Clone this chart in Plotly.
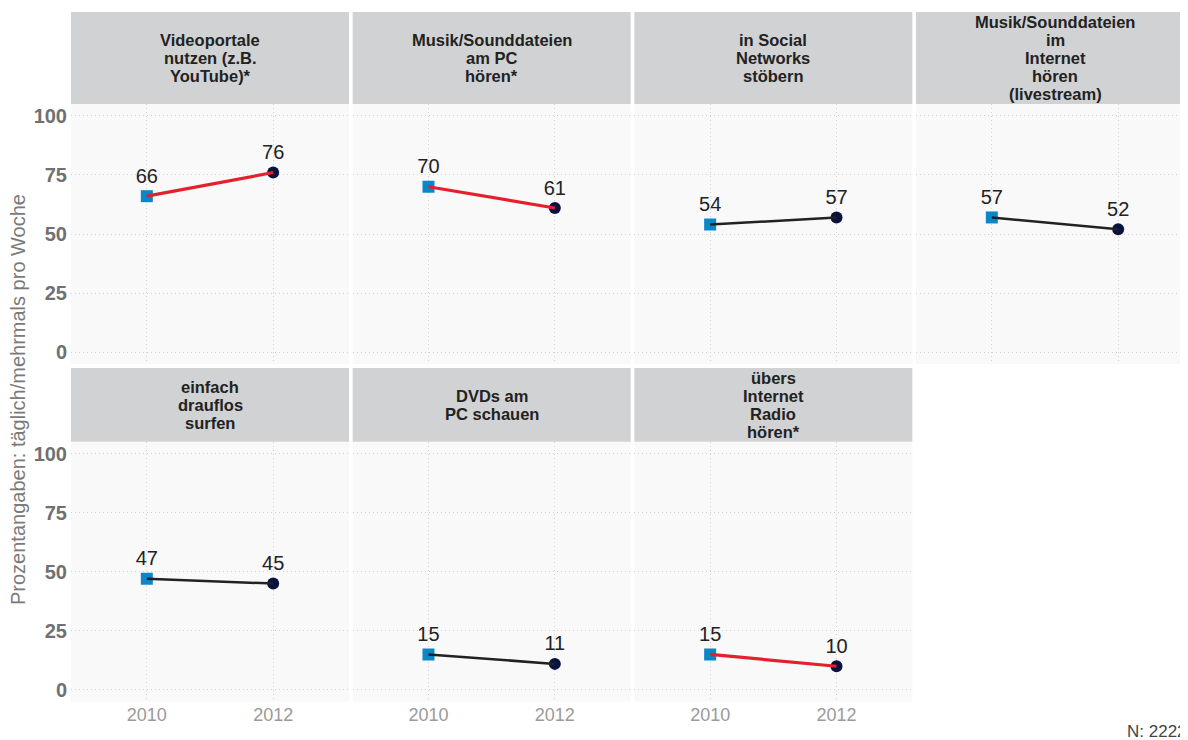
import plotly.graph_objects as go

# Daten
jahre = ["2010", "2012"]
titel = [
    ["Videoportale", "nutzen (z.B.", "YouTube)*"],
    ["Musik/Sounddateien", "am PC", "hören*"],
    ["in Social", "Networks", "stöbern"],
    ["Musik/Sounddateien", "im", "Internet", "hören", "(livestream)"],
    ["einfach", "drauflos", "surfen"],
    ["DVDs am", "PC schauen"],
    ["übers", "Internet", "Radio", "hören*"],
]
werte_2010 = [66, 70, 54, 57, 47, 15, 15]
werte_2012 = [76, 61, 57, 52, 45, 11, 10]
signifikant = [True, True, False, False, False, False, True]
y_ticks = [0, 25, 50, 75, 100]

# page body has an 8px margin, figure is drawn inside it
OFF = 8
W, H = 1188 - OFF, 740 - OFF
col_x0 = [71 - OFF, 352.67 - OFF, 634.33 - OFF, 916 - OFF]
panel_w = 278
# (strip top, strip bottom/panel top, panel bottom) in px
rows = [(12 - OFF, 104 - OFF, 364 - OFF), (368 - OFF, 441.7 - OFF, 701.7 - OFF)]

FONT = "Liberation Sans, Arial"
GRID = dict(showgrid=True, gridcolor="#d2d2d2", griddash="1px,3px", gridwidth=1)

fig = go.Figure()
shapes = []
annotations = []
layout_axes = {}

for i in range(len(titel)):
    r, c = divmod(i, 4)
    n = i + 1
    xa = "x" if n == 1 else "x%d" % n
    ya = "y" if n == 1 else "y%d" % n
    x0 = col_x0[c]
    x1 = min(x0 + panel_w, W)
    s_top, p_top, p_bot = rows[r]

    # range follows the clipped width of the last column
    rng_end = -0.6 + 2.2 * (x1 - x0) / panel_w
    show_x = r == 1
    layout_axes["xaxis" if n == 1 else "xaxis%d" % n] = dict(
        domain=[x0 / W, x1 / W], anchor=ya, type="category",
        range=[-0.6, rng_end], zeroline=False, showline=False,
        showticklabels=show_x, ticks="",
        tickfont=dict(family=FONT, size=18, color="#9a9a9a"),
        fixedrange=True, **GRID,
    )
    show_y = c == 0
    layout_axes["yaxis" if n == 1 else "yaxis%d" % n] = dict(
        domain=[1 - p_bot / H, 1 - p_top / H], anchor=xa,
        range=[-5, 105], tickvals=y_ticks, zeroline=False,
        showline=False, showticklabels=show_y, ticks="", ticklabelstandoff=3,
        tickfont=dict(family=FONT, size=20, color="#707070", weight="bold"),
        fixedrange=True, **GRID,
    )

    # strip
    shapes.append(dict(type="rect", xref="paper", yref="paper",
                       x0=x0 / W, x1=x1 / W, y0=1 - p_top / H, y1=1 - s_top / H,
                       fillcolor="#d1d2d4", line=dict(width=0), layer="below"))
    mitte = (s_top + p_top) / 2
    zeilen = titel[i]
    for k, z in enumerate(zeilen):
        yy = mitte + (k - (len(zeilen) - 1) / 2) * 18
        annotations.append(dict(
            text="<b>%s</b>" % z, xref="paper", yref="paper",
            x=(col_x0[c] + panel_w / 2) / W, y=1 - yy / H,
            xanchor="center", yanchor="middle", showarrow=False,
            font=dict(family=FONT, size=16.5, color="#222222"),
        ))

    farbe = "#e4202c" if signifikant[i] else "#222222"
    breite = 3.2 if signifikant[i] else 2.5
    fig.add_trace(go.Scatter(
        x=[jahre[0]], y=[werte_2010[i]], xaxis=xa, yaxis=ya,
        mode="markers+text", text=[str(werte_2010[i])], textposition="top center",
        textfont=dict(family=FONT, size=20, color="#222222"),
        marker=dict(symbol="square", size=12, color="#0b87c8"),
    ))
    fig.add_trace(go.Scatter(
        x=[jahre[1]], y=[werte_2012[i]], xaxis=xa, yaxis=ya,
        mode="markers+text", text=[str(werte_2012[i])], textposition="top center",
        textfont=dict(family=FONT, size=20, color="#222222"),
        marker=dict(symbol="circle", size=12, color="#0a1240"),
    ))
    fig.add_trace(go.Scatter(
        x=jahre, y=[werte_2010[i], werte_2012[i]], xaxis=xa, yaxis=ya,
        mode="lines", line=dict(color=farbe, width=breite),
    ))

annotations.append(dict(
    text="Prozentangaben: täglich/mehrmals pro Woche", xref="paper", yref="paper",
    x=(18 - OFF) / W, y=1 - (400 - OFF) / H, textangle=-90, showarrow=False,
    xanchor="center", yanchor="middle",
    font=dict(family=FONT, size=20, color="#7a7a7a"),
))
annotations.append(dict(
    text="N: 2222", xref="paper", yref="paper",
    x=1.0, y=1 - (731 - OFF) / H, showarrow=False,
    xanchor="right", yanchor="middle", borderpad=0,
    font=dict(family=FONT, size=17, color="#444444"),
))

fig.update_layout(
    width=W, height=H, margin=dict(l=0, r=0, t=0, b=0),
    paper_bgcolor="white", plot_bgcolor="#f9f9f9",
    showlegend=False, hovermode=False,
    shapes=shapes, annotations=annotations,
    **layout_axes,
)

fig.write_html("out.html")
